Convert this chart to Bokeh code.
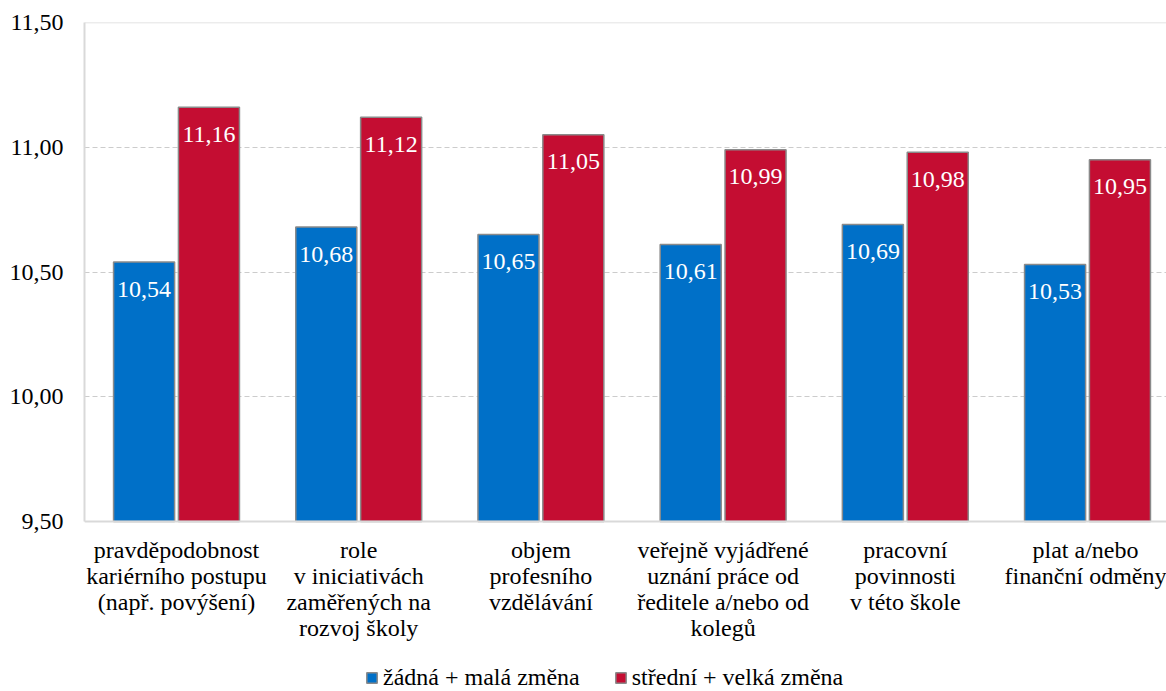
from bokeh.plotting import figure
from bokeh.models import (ColumnDataSource, Range1d, FixedTicker, Span, Legend, LegendItem)
from bokeh.core.properties import value
from bokeh.embed import file_html
from bokeh.resources import INLINE

categories = [
    "pravděpodobnost\nkariérního postupu\n(např. povýšení)",
    "role\nv iniciativách\nzaměřených na\nrozvoj školy",
    "objem\nprofesního\nvzdělávání",
    "veřejně vyjádřené\nuznání práce od\nředitele a/nebo od\nkolegů",
    "pracovní\npovinnosti\nv této škole",
    "plat a/nebo\nfinanční odměny",
]
series_names = ["žádná + malá změna", "střední + velká změna"]
low_values = [10.54, 10.68, 10.65, 10.61, 10.69, 10.53]
high_values = [11.16, 11.12, 11.05, 10.99, 10.98, 10.95]
y_ticks = [9.5, 10.0, 10.5, 11.0, 11.5]
y_tick_labels = ["9,50", "10,00", "10,50", "11,00", "11,50"]

FONT = "Liberation Serif"
BLUE = "#0070C8"
RED = "#C40D32"
FS = "24px"

xpos = [i + 0.5 for i in range(len(categories))]

def fmt(v):
    return f"{v:.2f}".replace(".", ",")

src_low = ColumnDataSource(dict(x=[x - 0.178 for x in xpos], top=low_values,
                                lab=[fmt(v) for v in low_values]))
src_high = ColumnDataSource(dict(x=[x + 0.178 for x in xpos], top=high_values,
                                 lab=[fmt(v) for v in high_values]))

W = 1166
H = 691
TOP = 22
LEFT = 84
PX_PER_UNIT_Y = 249.5
PX_PER_GROUP = 182.2
y_start = 11.5 - (H - TOP) / PX_PER_UNIT_Y
x_start = -0.005
x_end = x_start + (W - LEFT) / PX_PER_GROUP

p = figure(width=W, height=H, output_backend="svg", toolbar_location=None,
           x_range=Range1d(x_start, x_end), y_range=Range1d(y_start, 11.5),
           min_border_left=LEFT, min_border_right=0, min_border_top=TOP,
           min_border_bottom=0)
p.outline_line_color = None
p.background_fill_color = "white"
p.border_fill_color = "white"

r_low = p.vbar(x="x", top="top", bottom=9.5, width=0.335, source=src_low,
               fill_color=BLUE, line_color="#8a8a8a", line_width=1.5)
r_high = p.vbar(x="x", top="top", bottom=9.5, width=0.335, source=src_high,
                fill_color=RED, line_color="#8a8a8a", line_width=1.5)

for s in (src_low, src_high):
    p.text(x="x", y="top", text="lab", source=s, text_color="white",
           text_font=value(FONT), text_font_size=FS, text_align="center",
           text_baseline="middle", y_offset=27)

# top border line
p.add_layout(Span(location=11.5, dimension="width", line_color="#d9d9d9", line_width=1.5))

# axes
p.xaxis.fixed_location = 9.5
p.xaxis.ticker = FixedTicker(ticks=xpos)
p.xaxis.major_label_overrides = {x: c for x, c in zip(xpos, categories)}
p.xaxis.major_label_text_font = FONT
p.xaxis.major_label_text_font_size = FS
p.xaxis.major_label_text_color = "black"
p.xaxis.major_label_text_line_height = 1.0
p.xaxis.major_label_standoff = 9
p.xaxis.major_tick_line_color = None
p.xaxis.minor_tick_line_color = None
p.xaxis.axis_line_color = "#d9d9d9"
p.xaxis.axis_line_width = 2

p.yaxis.bounds = (9.5, 11.5)
p.yaxis.ticker = FixedTicker(ticks=y_ticks)
p.yaxis.major_label_overrides = {t: l for t, l in zip(y_ticks, y_tick_labels)}
p.yaxis.major_label_text_font = FONT
p.yaxis.major_label_text_font_size = FS
p.yaxis.major_label_text_color = "black"
p.yaxis.major_label_standoff = 15
p.yaxis.major_tick_line_color = None
p.yaxis.minor_tick_line_color = None
p.yaxis.axis_line_color = "#d9d9d9"
p.yaxis.axis_line_width = 2

p.xgrid.grid_line_color = None
p.ygrid.grid_line_color = "#cccccc"
p.ygrid.grid_line_dash = "5 3"
p.ygrid.grid_line_width = 1.2

legend = Legend(items=[LegendItem(label=series_names[0], renderers=[r_low]),
                       LegendItem(label=series_names[1], renderers=[r_high])],
                location=(281, 0), orientation="horizontal",
                label_text_font=FONT, label_text_font_size=FS,
                label_text_color="black", glyph_width=13, glyph_height=13,
                label_standoff=5, spacing=34, padding=0, margin=0,
                border_line_color=None, background_fill_alpha=0)
p.add_layout(legend, "center")

open("out.html", "w").write(file_html(p, INLINE))
